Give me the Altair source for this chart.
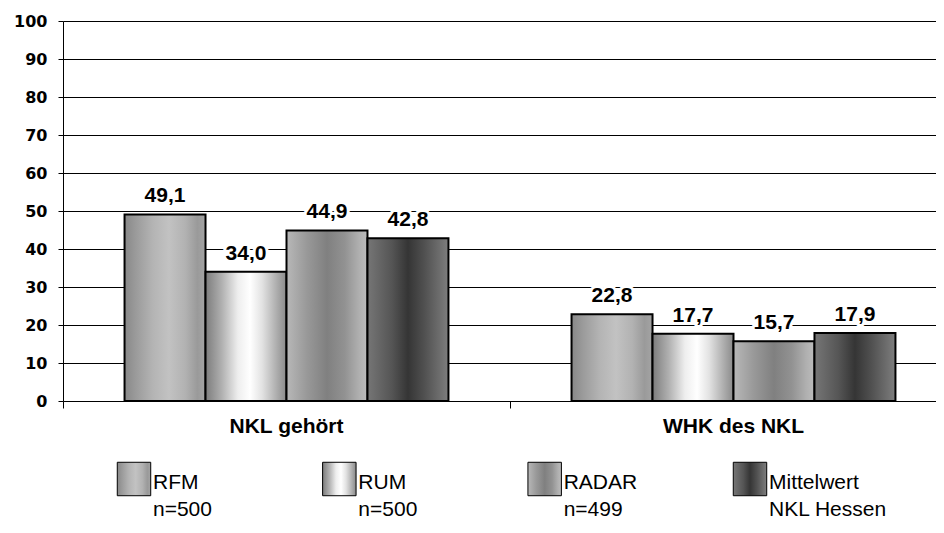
import altair as alt
import pandas as pd

categories = ["NKL gehört", "WHK des NKL"]
series = ["RFM", "RUM", "RADAR", "Mittelwert"]
rfm = [49.1, 22.8]
rum = [34.0, 17.7]
radar = [44.9, 15.7]
mittelwert = [42.8, 17.9]
legend_line1 = ["RFM", "RUM", "RADAR", "Mittelwert"]
legend_line2 = ["n=500", "n=500", "n=499", "NKL  Hessen"]
y_ticks = [0, 10, 20, 30, 40, 50, 60, 70, 80, 90, 100]

values = {"RFM": rfm, "RUM": rum, "RADAR": radar, "Mittelwert": mittelwert}
rows = []
for s in series:
    for c, v in zip(categories, values[s]):
        rows.append({"category": c, "series": s, "value": v})
df = pd.DataFrame(rows)
leg = pd.DataFrame({"series": series,
                    "label": [a + "\n" + b for a, b in zip(legend_line1, legend_line2)]})


def grad(stops):
    return alt.Gradient(gradient="linear", x1=0, x2=1, y1=0, y2=0,
                        stops=[alt.GradientStop(offset=o, color=c) for o, c in stops])


gradients = {
    "RFM": grad([(0, "#888888"), (0.15, "#9c9c9c"), (0.35, "#b4b4b4"), (0.55, "#c2c2c2"),
                 (0.75, "#b2b2b2"), (0.9, "#9a9a9a"), (1, "#a4a4a4")]),
    "RUM": grad([(0, "#7c7c7c"), (0.2, "#b0b0b0"), (0.4, "#eeeeee"), (0.55, "#ffffff"),
                 (0.7, "#e2e2e2"), (0.87, "#b0b0b0"), (1, "#8a8a8a")]),
    "RADAR": grad([(0, "#b8b8b8"), (0.25, "#999999"), (0.5, "#808080"), (0.72, "#929292"),
                   (0.9, "#b0b0b0"), (1, "#bcbcbc")]),
    "Mittelwert": grad([(0, "#767676"), (0.3, "#555555"), (0.5, "#353535"), (0.7, "#505050"),
                        (1, "#7e7e7e")]),
}

x_enc = alt.X("category:N", sort=categories,
              scale=alt.Scale(domain=categories, paddingInner=0, paddingOuter=0),
              axis=alt.Axis(title=None, bandPosition=0, tickSize=7, labelPadding=7,
                            labelAngle=0, labelFont="Liberation Sans", labelFontSize=21,
                            labelFontWeight="bold", labelColor="black", domain=False,
                            tickColor="black", grid=False))
xoff = alt.XOffset("series:N", sort=series,
                   scale=alt.Scale(domain=series, paddingInner=0, paddingOuter=0.76))
y_enc = alt.Y("value:Q", scale=alt.Scale(domain=[0, 100]),
              axis=alt.Axis(title=None, values=y_ticks, tickSize=5, labelPadding=11,
                            labelFont="DejaVu Sans", labelFontSize=16, labelFontWeight="bold",
                            labelColor="black", domainColor="black", tickColor="black",
                            gridColor="black", gridOpacity=1, minExtent=50))

base = alt.Chart(df)
bars = [
    base.transform_filter(alt.datum.series == s)
    .mark_bar(fill=gradients[s], stroke="black", strokeWidth=2, opacity=1)
    .encode(x=x_enc, xOffset=xoff, y=y_enc)
    for s in series
]

lab = base.transform_calculate(label="replace(format(datum.value, '.1f'), '.', ',')")
halo = lab.mark_text(font="Liberation Sans", fontSize=21, fontWeight="bold", dy=-12,
                     baseline="alphabetic", fill="white", stroke="white", strokeWidth=6,
                     strokeJoin="round").encode(x=x_enc, xOffset=xoff, y=y_enc, text="label:N")
text = lab.mark_text(font="Liberation Sans", fontSize=21, fontWeight="bold", dy=-12,
                     baseline="alphabetic", color="black").encode(
    x=x_enc, xOffset=xoff, y=y_enc, text="label:N")

main = alt.layer(*bars, halo, text).properties(width=894, height=380)

lx = alt.X("series:N", sort=series,
           scale=alt.Scale(type="point", domain=series, range=[71, 687], padding=0), axis=None)
lbase = alt.Chart(leg)
swatches = [
    lbase.transform_filter(alt.datum.series == s)
    .mark_square(size=1120, fill=gradients[s], stroke="black", strokeWidth=1, opacity=1)
    .encode(x=lx, y=alt.value(43))
    for s in series
]
ltext = lbase.mark_text(align="left", baseline="alphabetic", dx=19, lineBreak="\n",
                        lineHeight=27, font="Liberation Sans", fontSize=21,
                        color="black").encode(x=lx, y=alt.value(53), text="label:N")
legend = alt.layer(*swatches, ltext).properties(width=894, height=60)

chart = (alt.vconcat(main, legend, spacing=0)
         .properties(padding={"left": 5, "top": 5, "right": -21, "bottom": 0})
         .configure_view(stroke=None))

chart.save("out.html", embed_options={"renderer": "svg", "actions": False})
